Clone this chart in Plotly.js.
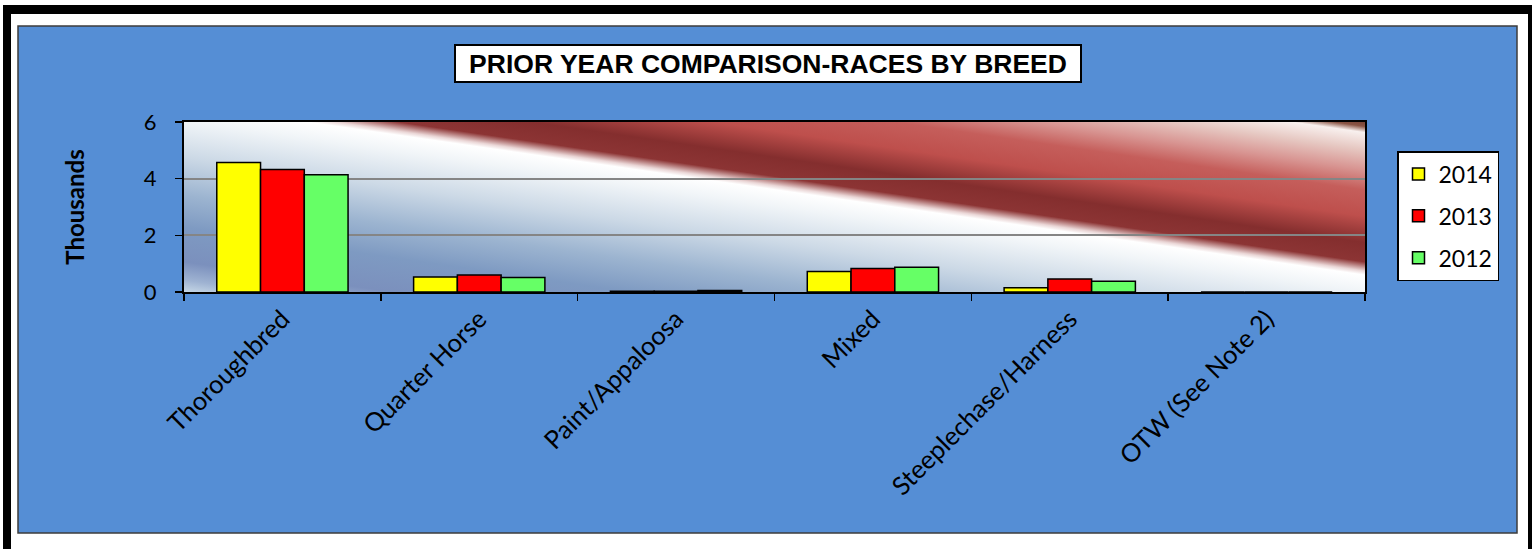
<!DOCTYPE html>
<html><head><meta charset="utf-8">
<script src="https://cdn.plot.ly/plotly-3.0.1.min.js"></script>
<style>html,body{margin:0;padding:0;background:#fff;overflow:hidden;} #chart{width:1532px;height:549px;}</style>
</head><body><div id="chart"></div>
<script>
// ---- data ----
const categories = ['Thoroughbred', 'Quarter Horse', 'Paint/Appaloosa', 'Mixed', 'Steeplechase/Harness', 'OTW (See Note 2)'];
const seriesNames = ['2014', '2013', '2012'];
const values2014 = [4.57, 0.53, 0.03, 0.72, 0.15, 0];
const values2013 = [4.32, 0.60, 0.03, 0.83, 0.46, 0];
const values2012 = [4.14, 0.51, 0.05, 0.87, 0.38, 0];
const yTickVals = [0, 2, 4, 6];
const yTickText = ['0', '2', '4', '6'];
const titleText = 'PRIOR YEAR COMPARISON-RACES BY BREED';
const yTitleText = 'Thousands';

// ---- style / geometry ----
const W = 1532, H = 549;
const PL = 184, PR = 1365, PT = 122, PB = 292;   // plot area in px
const PW = PR - PL, PH = PB - PT;
const seriesColors = ['#FFFF00', '#FF0000', '#66FF66'];
const panelBlue = '#558ED5';
const txtFont = 'Lato, Calibri, Carlito, sans-serif';

function xp(px) { return (px - PL) / PW; }
function yp(py) { return (PB - py) / PH; }
function rect(x0, y0, x1, y1, fill, line, lw) {
  return {type: 'rect', xref: 'paper', yref: 'paper', x0: xp(x0), x1: xp(x1), y0: yp(y1), y1: yp(y0),
    fillcolor: fill || 'rgba(0,0,0,0)', line: {color: line || 'rgba(0,0,0,0)', width: lw || 0}, layer: 'below'};
}

// background gradient of the plot area (decoration)
function makeBackground() {
  const c = document.createElement('canvas');
  c.width = PW; c.height = PH;
  const g = c.getContext('2d');
  const p0 = [570 - PL, 160 - PT];
  const n = [0.1432, -0.9897];
  const dMin = -186, dMax = 156;
  const grad = g.createLinearGradient(p0[0] + n[0] * dMin, p0[1] + n[1] * dMin, p0[0] + n[0] * dMax, p0[1] + n[1] * dMax);
  const stops = [
    [-186, '#C6D7E6'], [-174, '#9FB3D2'], [-156, '#7B90BD'], [-122, '#7E9AC2'],
    [-90, '#9CB4D0'], [-52, '#CCD9E6'], [-16, '#F1F5F8'], [0, '#FFFFFF'],
    [4, '#EAD6D6'], [13, '#8C3434'], [32, '#842E2E'], [58, '#BE4F4C'],
    [84, '#C55E5B'], [104, '#D89592'], [124, '#E6C8C2'], [141, '#F8F0EE'],
    [147, '#8A5545'], [156, '#6A3428']
  ];
  stops.forEach(s => grad.addColorStop((s[0] - dMin) / (dMax - dMin), s[1]));
  g.fillStyle = grad;
  g.fillRect(0, 0, PW, PH);
  return c.toDataURL('image/png');
}

const allValues = [values2014, values2013, values2012];
const traces = allValues.map((vals, i) => ({
  type: 'bar',
  x: categories,
  y: vals,
  name: seriesNames[i],
  legendgroup: 'g' + i,
  marker: {color: seriesColors[i], line: {color: '#000000', width: 1.5}},
  hoverinfo: 'x+y+name'
}));

const shapes = [
  rect(0, 0, 18, H, '#FFFFFF'),
  rect(0, 0, W, 26, '#FFFFFF'),
  rect(1517, 0, W, H, '#FFFFFF'),
  rect(0, 533, W, H, '#FFFFFF'),
  rect(3, 5, 11, H, '#000000'),
  rect(3, 5, W, 14, '#000000'),
  rect(1528, 5, W, H, '#000000'),
  rect(18, 26, 1517, 533, 'rgba(0,0,0,0)', '#3C3C3C', 1.5),
  rect(455, 45, 1081, 82, '#FFFFFF', '#000000', 2)
];

const layout = {
  width: W, height: H,
  margin: {l: PL, r: W - PR, t: PT, b: H - PB, pad: 0},
  paper_bgcolor: panelBlue,
  plot_bgcolor: 'rgba(0,0,0,0)',
  font: {family: txtFont, color: '#000000'},
  title: {
    text: titleText,
    font: {family: 'Liberation Sans, Arial, sans-serif', size: 26.5, weight: 'bold', color: '#000000'},
    xref: 'container', yref: 'container',
    x: 768 / W, y: 1 - 64 / H, xanchor: 'center', yanchor: 'middle'
  },
  barmode: 'group',
  bargap: 0.333,
  bargroupgap: 0,
  xaxis: {
    type: 'category',
    tickson: 'boundaries',
    ticks: 'outside', ticklen: 7, tickwidth: 1.5, tickcolor: '#000000',
    showline: true, linecolor: '#000000', linewidth: 2, mirror: true,
    showgrid: false, zeroline: false,
    tickangle: -45,
    tickfont: {family: txtFont, size: 25.5, color: '#000000'},
    automargin: false
  },
  yaxis: {
    range: [0, 6],
    tickvals: yTickVals, ticktext: yTickText,
    ticks: 'outside', ticklen: 7, tickwidth: 1.5, tickcolor: '#000000',
    showline: true, linecolor: '#000000', linewidth: 2, mirror: true,
    showgrid: true, gridcolor: '#858585', gridwidth: 2,
    zeroline: false,
    tickfont: {family: txtFont, size: 22, color: '#000000'},
    ticklabelstandoff: 14,
    title: {text: yTitleText, font: {family: txtFont, size: 24, weight: 'bold', color: '#000000'}, standoff: 52},
    automargin: false
  },
  legend: {
    x: xp(1397), y: yp(151), xanchor: 'left', yanchor: 'top',
    bgcolor: '#FFFFFF', bordercolor: '#000000', borderwidth: 1.5,
    font: {family: txtFont, size: 23, color: '#000000'},
    traceorder: 'grouped',
    tracegroupgap: 9
  },
  showlegend: true,
  shapes: shapes,
  images: [{
    source: makeBackground(), xref: 'paper', yref: 'paper',
    x: 0, y: 1, sizex: 1, sizey: 1, xanchor: 'left', yanchor: 'top',
    sizing: 'stretch', layer: 'below'
  }]
};

Plotly.newPlot('chart', traces, layout, {displayModeBar: false, staticPlot: true});
</script>
</body></html>
